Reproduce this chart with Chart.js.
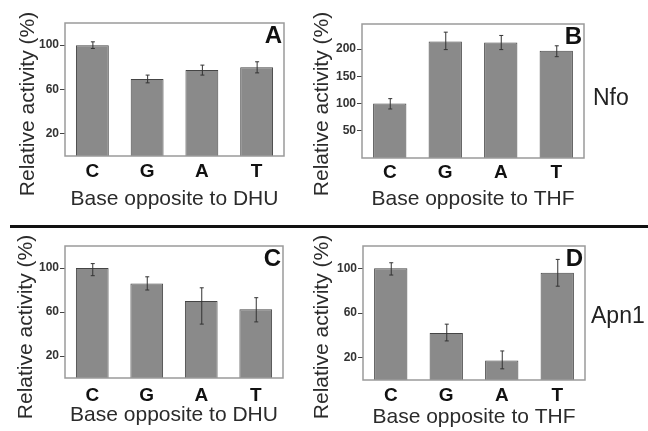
<!DOCTYPE html>
<html>
<head>
<meta charset="utf-8">
<script src="https://cdn.jsdelivr.net/npm/chart.js@4.4.0/dist/chart.umd.min.js"></script>
<style>
  body { margin: 0; background: #fff; }
  #wrap { position: relative; width: 648px; height: 431px; overflow: hidden; font-family: "Liberation Sans", Arial, sans-serif; }
  canvas { position: absolute; }
  .ytitle { position: absolute; font-size: 21px; color: #2b2b2b; white-space: nowrap; transform: translate(-50%, -50%) rotate(-90deg); }
  .side { position: absolute; font-size: 23px; color: #222; transform: translateY(-50%); }
  #sep { position: absolute; left: 10px; right: 0; top: 225px; height: 3px; background: #111; }
</style>
</head>
<body>
<div id="wrap">
  <canvas id="chartA" width="320" height="222" style="left:0;top:0"></canvas>
  <canvas id="chartB" width="328" height="222" style="left:320px;top:0"></canvas>
  <canvas id="chartC" width="320" height="199" style="left:0;top:232px"></canvas>
  <canvas id="chartD" width="328" height="199" style="left:320px;top:232px"></canvas>
  <div class="ytitle" style="left:27px;top:104px">Relative activity (%)</div>
  <div class="ytitle" style="left:321px;top:104px">Relative activity (%)</div>
  <div class="ytitle" style="left:25px;top:327px">Relative activity (%)</div>
  <div class="ytitle" style="left:321px;top:327px">Relative activity (%)</div>
  <div class="side" style="left:593px;top:97px">Nfo</div>
  <div class="side" style="left:591px;top:315px">Apn1</div>
  <div id="sep"></div>
</div>
<script>
const bases = ['C', 'G', 'A', 'T'];

// Nfo
const nfoDhu = [100, 69.5, 77.5, 80];
const nfoDhuErr = [[97, 103], [66, 73], [73, 82], [75, 85]];
const nfoThf = [100, 214, 212, 197];
const nfoThfErr = [[90, 109], [199, 231], [199, 225], [186, 206]];

// Apn1
const apnDhu = [100, 86, 70, 62.5];
const apnDhuErr = [[93, 104], [80, 92], [49, 82], [51, 73]];
const apnThf = [100, 42, 17.5, 96];
const apnThfErr = [[94, 105], [35, 50], [10, 26], [84, 108]];

const pctTicks = [20, 60, 100];
const thfNfoTicks = [50, 100, 150, 200];

const panelExtras = {
  id: 'panelExtras',
  afterDatasetsDraw(chart, args, opts) {
    const { ctx, chartArea: a, scales: { y } } = chart;
    ctx.save();
    ctx.strokeStyle = '#333';
    ctx.lineWidth = 1;
    chart.getDatasetMeta(0).data.forEach((bar, i) => {
      const y1 = y.getPixelForValue(opts.errors[i][0]);
      const y2 = y.getPixelForValue(opts.errors[i][1]);
      ctx.beginPath();
      ctx.moveTo(bar.x + 0.5, y1); ctx.lineTo(bar.x + 0.5, y2);
      ctx.moveTo(bar.x - 1.5, y1); ctx.lineTo(bar.x + 2.5, y1);
      ctx.moveTo(bar.x - 1.5, y2); ctx.lineTo(bar.x + 2.5, y2);
      ctx.stroke();
    });
    ctx.strokeStyle = '#9a9a9a';
    ctx.lineWidth = 1.5;
    ctx.strokeRect(a.left, a.top, a.right - a.left, a.bottom - a.top);
    ctx.fillStyle = '#111';
    ctx.font = 'bold 24px "Liberation Sans", Arial, sans-serif';
    ctx.textAlign = 'right';
    ctx.textBaseline = 'top';
    ctx.fillText(opts.letter, a.right - 2, a.top + 1);
    ctx.restore();
  }
};

function makePanel(id, p) {
  return new Chart(document.getElementById(id), {
    type: 'bar',
    data: {
      labels: bases,
      datasets: [{
        data: p.values,
        backgroundColor: '#8a8a8a',
        borderColor: '#454545',
        borderWidth: 1,
        barPercentage: 0.6,
        categoryPercentage: 1
      }]
    },
    plugins: [panelExtras],
    options: {
      responsive: false,
      animation: false,
      layout: { padding: { left: 0, top: p.top, right: p.right, bottom: 0 } },
      plugins: {
        legend: { display: false },
        tooltip: { enabled: false },
        panelExtras: { errors: p.errors, letter: p.letter }
      },
      scales: {
        x: {
          grid: { display: false },
          border: { display: false },
          ticks: {
            color: '#111',
            padding: p.labelPad,
            font: { family: '"Liberation Sans", Arial, sans-serif', size: 19, weight: 'bold' }
          },
          title: {
            display: true,
            text: p.xTitle,
            color: '#2b2b2b',
            padding: { top: 0, bottom: p.titlePad },
            font: { family: '"Liberation Sans", Arial, sans-serif', size: 21 }
          },
          afterFit: s => { s.height = p.xHeight; }
        },
        y: {
          min: 0,
          max: p.max,
          grid: { drawOnChartArea: false, drawTicks: true, tickLength: 5, color: '#444' },
          border: { display: false },
          ticks: {
            color: '#333',
            padding: 1,
            font: { family: '"Liberation Sans", Arial, sans-serif', size: 12, weight: 'bold' }
          },
          afterBuildTicks: s => { s.ticks = p.ticks.map(v => ({ value: v })); },
          afterFit: s => { s.width = p.yWidth; }
        }
      }
    }
  });
}

makePanel('chartA', { values: nfoDhu, errors: nfoDhuErr, ticks: pctTicks, max: 120, letter: 'A',
  xTitle: 'Base opposite to DHU', top: 23, right: 36, yWidth: 65, xHeight: 66, labelPad: -4, titlePad: 10 });
makePanel('chartB', { values: nfoThf, errors: nfoThfErr, ticks: thfNfoTicks, max: 246, letter: 'B',
  xTitle: 'Base opposite to THF', top: 24, right: 64, yWidth: 42, xHeight: 64, labelPad: -5, titlePad: 10 });
makePanel('chartC', { values: apnDhu, errors: apnDhuErr, ticks: pctTicks, max: 120, letter: 'C',
  xTitle: 'Base opposite to DHU', top: 14, right: 37, yWidth: 65, xHeight: 53, labelPad: -2, titlePad: 3 });
makePanel('chartD', { values: apnThf, errors: apnThfErr, ticks: pctTicks, max: 120, letter: 'D',
  xTitle: 'Base opposite to THF', top: 14, right: 63, yWidth: 43, xHeight: 51, labelPad: -4, titlePad: 1 });
</script>
</body>
</html>
